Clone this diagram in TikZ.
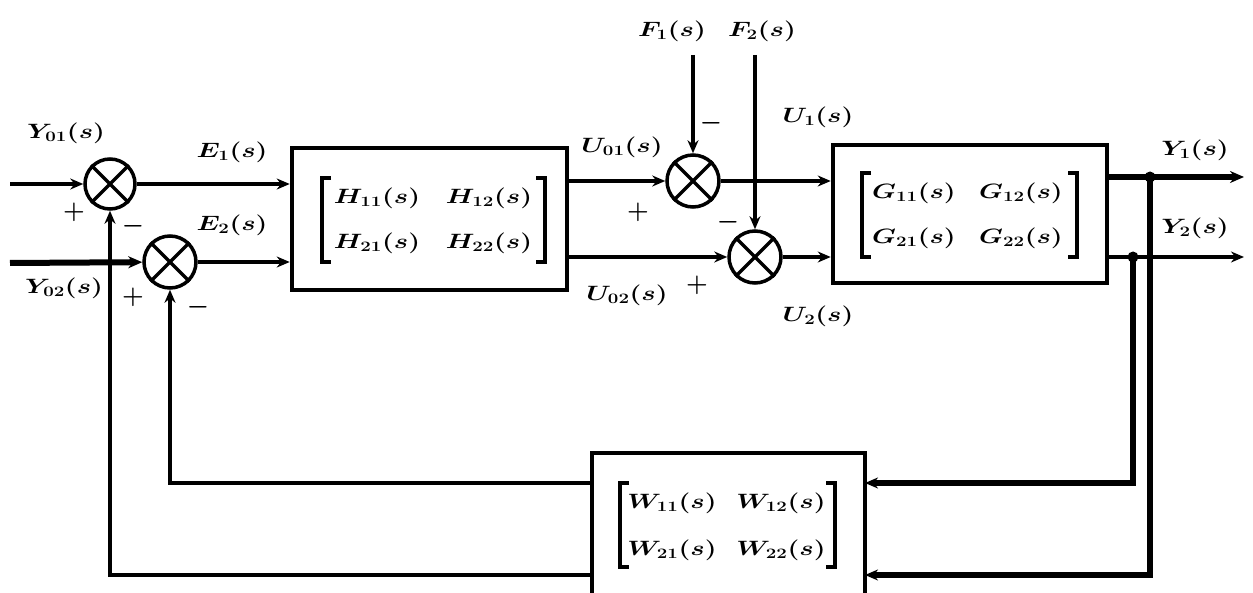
\documentclass[tikz,border=0pt]{standalone}
\usepackage{amsmath}
\usetikzlibrary{arrows.meta}
\newcommand\lab[1]{\scalebox{1.3}[1]{\boldmath$#1$}}
\newcommand\sgnt[1]{\mbox{\boldmath$#1$}}
\begin{document}
\begin{tikzpicture}[x=1pt,y=-1pt,
  arr/.style={line width=4pt,-{Stealth[length=13pt,width=11pt]}},
  thick arr/.style={line width=6pt,-{Stealth[length=14pt,width=12pt]}},
  blk/.style={draw,line width=4.5pt,inner sep=0pt},
  sumn/.style={draw,circle,line width=3.5pt,minimum size=50pt,inner sep=0pt},
  brk/.style={line width=3.5pt},
  lbl/.style={font=\fontsize{22}{26}\selectfont,inner sep=0pt},
  sgn/.style={font=\fontsize{30}{34}\selectfont,inner sep=0pt}]
\useasboundingbox (0,0) rectangle (1253,593);
% blocks
\node[blk,minimum width=275pt,minimum height=142pt] (H) at (429.5,219) {};
\node[blk,minimum width=274pt,minimum height=138pt] (G) at (970,214) {};
\node[blk,minimum width=273pt,minimum height=180pt] (W) at (728.5,543) {};
% summing junctions
\node[sumn] (s1) at (110,184) {};
\node[sumn,minimum size=52pt] (s2) at (170,262) {};
\node[sumn,minimum size=52pt] (s3) at (693,181) {};
\node[sumn,minimum size=52pt] (s4) at (755,257) {};
\foreach \s in {s1,s2,s3,s4}{
  \draw[line width=3.5pt] (\s.north west) -- (\s.south east) (\s.north east) -- (\s.south west);
}
% matrix brackets
\draw[brk] (331,178) -- (322,178) -- (322,262) -- (331,262);
\draw[brk] (536,178) -- (545,178) -- (545,262) -- (536,262);
\draw[brk] (871,173) -- (862,173) -- (862,257) -- (871,257);
\draw[brk] (1068,173) -- (1077,173) -- (1077,257) -- (1068,257);
\draw[brk] (629,483) -- (620,483) -- (620,567) -- (629,567);
\draw[brk] (826,483) -- (835,483) -- (835,567) -- (826,567);
% matrix entries
\node[lbl] (h11) at (377,198) {\lab{H_{11}(s)}};
\node[lbl] (h12) at (489,198) {\lab{H_{12}(s)}};
\node[lbl] (h21) at (377,243) {\lab{H_{21}(s)}};
\node[lbl] (h22) at (489,243) {\lab{H_{22}(s)}};
\node[lbl] (g11) at (914,193) {\lab{G_{11}(s)}};
\node[lbl] (g12) at (1021,193) {\lab{G_{12}(s)}};
\node[lbl] (g21) at (914,238) {\lab{G_{21}(s)}};
\node[lbl] (g22) at (1021,238) {\lab{G_{22}(s)}};
\node[lbl] (w11) at (672,503) {\lab{W_{11}(s)}};
\node[lbl] (w12) at (781,503) {\lab{W_{12}(s)}};
\node[lbl] (w21) at (672,550) {\lab{W_{21}(s)}};
\node[lbl] (w22) at (781,550) {\lab{W_{22}(s)}};
% free ends
\coordinate (in1) at (10,184);
\coordinate (in2) at (10,263);
\coordinate (f1) at (693,55);
\coordinate (f2) at (755,55);
\coordinate (j1) at (1150,177);
\coordinate (j2) at (1133,257);
\coordinate (o1) at (1244,177);
\coordinate (o2) at (1244,257);
\coordinate (wr1) at (865,483);
\coordinate (wr2) at (865,575);
\coordinate (wl1) at (592,483);
\coordinate (wl2) at (592,575);
% connectors
\draw[arr] (in1) -- (s1);
\draw[thick arr] (in2) -- (s2);
\draw[arr] (s1) -- (s1 -| H.west);
\draw[arr] (s2) -- (s2 -| H.west);
\draw[arr] (H.east |- s3) -- (s3);
\draw[arr] (H.east |- s4) -- (s4);
\draw[arr] (f1) -- (s3);
\draw[arr] (f2) -- (s4);
\draw[arr] (s3) -- (s3 -| G.west);
\draw[arr] (s4) -- (s4 -| G.west);
\draw[thick arr] (G.east |- j1) -- (o1);
\draw[arr] (G.east |- j2) -- (o2);
\draw[line width=5.5pt,-{Stealth[length=13pt,width=11pt]}] (j1) |- (wr2);
\draw[line width=5.5pt,-{Stealth[length=13pt,width=11pt]}] (j2) |- (wr1);
\fill (j1) circle (5.5pt);
\fill (j2) circle (5.5pt);
\draw[arr] (wl1) -| (s2);
\draw[arr] (wl2) -| (s1);
% signal labels
\node[lbl] (ly01) at (66,133) {\lab{Y_{01}(s)}};
\node[lbl] (ly02) at (64,288) {\lab{Y_{02}(s)}};
\node[lbl] (le1) at (232,152) {\lab{E_1(s)}};
\node[lbl] (le2) at (232,225) {\lab{E_2(s)}};
\node[lbl] (lf1) at (672,31) {\lab{F_1(s)}};
\node[lbl] (lf2) at (762,31) {\lab{F_2(s)}};
\node[lbl] (lu01) at (622,147) {\lab{U_{01}(s)}};
\node[lbl] (lu02) at (627,295) {\lab{U_{02}(s)}};
\node[lbl] (lu1) at (818,117) {\lab{U_1(s)}};
\node[lbl] (lu2) at (818,316) {\lab{U_2(s)}};
\node[lbl] (ly1) at (1195,150) {\lab{Y_1(s)}};
\node[lbl] (ly2) at (1195,228) {\lab{Y_2(s)}};
% signs
\node[sgn] (p1) at (74,212) {\sgnt{+}};
\node[sgn] (m1) at (133,226) {\sgnt{-}};
\node[sgn] (p2) at (133,297) {\sgnt{+}};
\node[sgn] (m2) at (198,307) {\sgnt{-}};
\node[sgn] (p3) at (638,212) {\sgnt{+}};
\node[sgn] (m3) at (711,123) {\sgnt{-}};
\node[sgn] (m4) at (728,222) {\sgnt{-}};
\node[sgn] (p4) at (697,285) {\sgnt{+}};
\end{tikzpicture}
\end{document}
